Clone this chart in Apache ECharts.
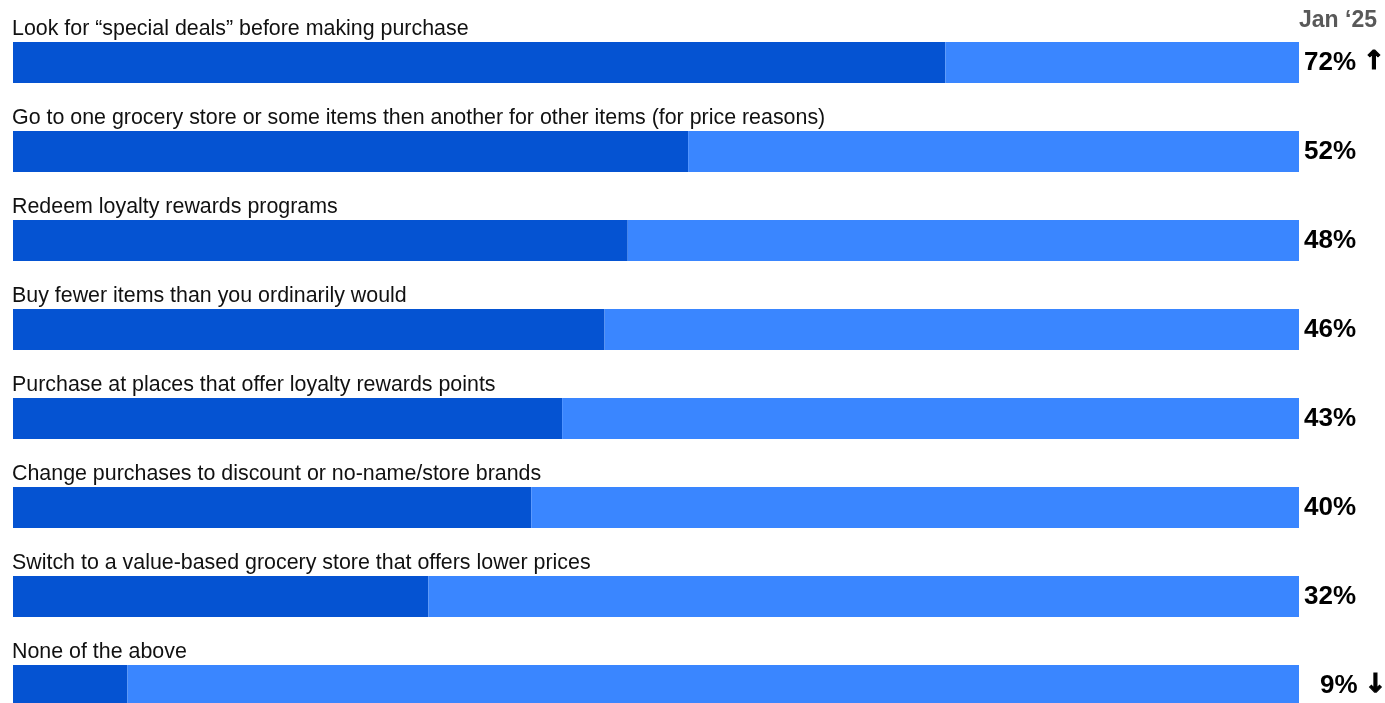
<!DOCTYPE html>
<html><head><meta charset="utf-8">
<script src="https://cdn.jsdelivr.net/npm/echarts@6/dist/echarts.min.js"></script>
<style>html,body{margin:0;padding:0;background:#fff;overflow:hidden}#c{width:1385px;height:730px}</style>
</head><body><div id="c"></div>
<script>
const categories = [
  'Look for \u201cspecial deals\u201d before making purchase',
  'Go to one grocery store or some items then another for other items (for price reasons)',
  'Redeem loyalty rewards programs',
  'Buy fewer items than you ordinarily would',
  'Purchase at places that offer loyalty rewards points',
  'Change purchases to discount or no-name/store brands',
  'Switch to a value-based grocery store that offers lower prices',
  'None of the above'
];
// bar lengths (percent)
const barValues = [72.5, 52.5, 47.8, 46.0, 42.7, 40.3, 32.3, 8.9];
// percentages printed at the right
const pctLabels = [72, 52, 48, 46, 43, 40, 32, 9];
const arrows = ['\u2191', '', '', '', '', '', '', '\u2193'];
const periodLabel = 'Jan \u201825';

const chart = echarts.init(document.getElementById('c'), null, {renderer: 'canvas'});
const FONT = 'Liberation Sans, Arial, sans-serif';
chart.setOption({
  animation: false,
  title: {
    text: periodLabel, right: 3, top: 4,
    textStyle: {fontFamily: FONT, fontSize: 23, fontWeight: 'bold', color: '#595959'}
  },
  grid: {left: 13, right: 86, top: 18, bottom: 0, containLabel: false},
  xAxis: {type: 'value', min: 0, max: 100, show: false},
  yAxis: {
    type: 'category', data: categories, inverse: true,
    axisLine: {show: false}, axisTick: {show: false}, splitLine: {show: false},
    axisLabel: {show: false}
  },
  series: [
    {
      type: 'bar', stack: 's', barWidth: 41, silent: true,
      itemStyle: {color: '#0553D2'},
      data: barValues,
      label: {
        show: true, position: [-1, -13], align: 'left', verticalAlign: 'middle',
        fontFamily: FONT, fontSize: 21.4, color: '#111',
        formatter: p => categories[p.dataIndex]
      }
    },
    {
      type: 'bar', stack: 's', barWidth: 41, silent: true,
      itemStyle: {color: '#3A86FF'},
      data: barValues.map((v, i) => ({
        value: 100 - v,
        label: {distance: arrows[i] === '\u2193' ? 21 : 5}
      })),
      label: {
        show: true, position: 'right', distance: 5,
        fontFamily: FONT, fontSize: 26, fontWeight: 'bold', color: '#000',
        formatter: p => pctLabels[p.dataIndex] + '%' + (arrows[p.dataIndex] ? ' {a|' + arrows[p.dataIndex] + '}' : ''),
        rich: {
          a: {fontFamily: 'DejaVu Sans', fontSize: 26, fontWeight: 'bold', color: '#000',
              textBorderColor: '#000', textBorderWidth: 1.1}
        }
      }
    }
  ]
});
</script></body></html>
